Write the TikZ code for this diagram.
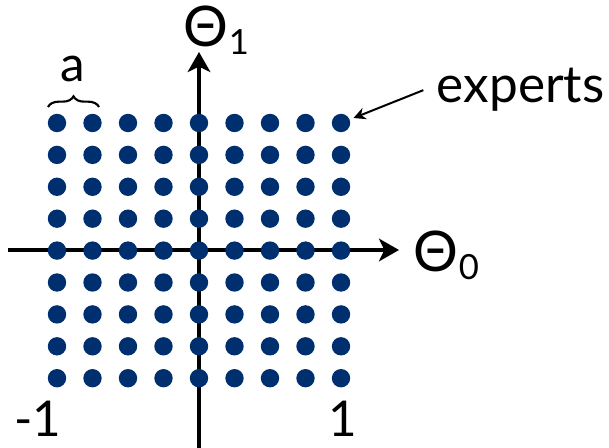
\documentclass[tikz,border=0pt]{standalone}
\usepackage{fontspec}
\setmainfont{Lato}
\usepackage{xcolor}
\usepackage{tikz}
\usetikzlibrary{arrows.meta,decorations.pathreplacing}

\definecolor{dotblue}{RGB}{0,47,112}
\newcommand{\lowsub}[1]{{\fontsize{26}{26}\selectfont\raisebox{-6pt}{#1}}}

\begin{document}
\begin{tikzpicture}[
  x=0.75pt, y=-0.75pt,
  every node/.style={font=\fontsize{37}{40}\selectfont, inner sep=2pt},
  expert/.style={circle, fill=dotblue, minimum size=13.8pt, inner sep=0pt},
  axis/.style={-{Stealth[length=15pt,width=17pt,inset=4pt]}, line width=2.6pt},
  pointer/.style={-{Stealth[length=9pt,width=9pt]}, line width=1.5pt, shorten >=3pt},
  axlabel/.style={anchor=base west, font=\fontsize{42}{46}\selectfont},
  bracket/.style={decorate, decoration={brace, amplitude=8pt}, line width=1.6pt}
]
\useasboundingbox (0,0) rectangle (609,448);

% axes first, experts on top
\coordinate (xstart) at (8,250);
\coordinate (xend) at (399,250);
\coordinate (ystart) at (199,448);
\coordinate (yend) at (199,52);
\draw[axis] (xstart) -- (xend);
\draw[axis] (ystart) -- (yend);

\foreach \i in {0,...,8}
  \foreach \j in {0,...,8}
    \node[expert] (e-\i-\j) at ({57+35.5*\i},{123+31.9*\j}) {};

\node[axlabel] (theta1) at (181,47) {Θ\lowsub{1}};
\node[axlabel] (theta0) at (411,272) {Θ\lowsub{0}};

\node[anchor=base west, font=\fontsize{38.5}{42}\selectfont] (experts) at (434,103) {experts};
\coordinate (exptail) at ([xshift=-8pt]experts.west);
\draw[pointer] (exptail) -- (e-8-0);

\node[anchor=base] (alabel) at (73,82) {a};
\coordinate (bl) at (48,107);
\coordinate (br) at (99,107);
\draw[bracket] (bl) -- (br);

\node[anchor=base east] (minusone) at (64,436) {-1};
\node[anchor=base] (plusone) at (343,436) {1};
\end{tikzpicture}
\end{document}
